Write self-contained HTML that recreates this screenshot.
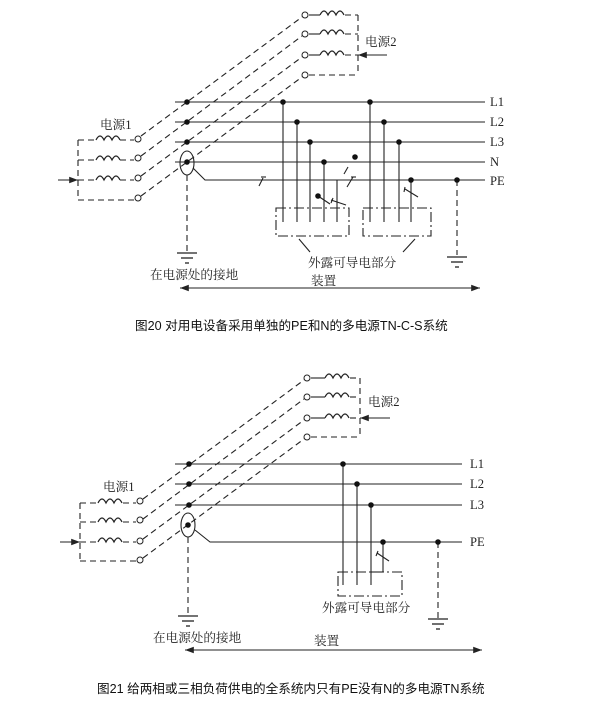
<!DOCTYPE html>
<html><head><meta charset="utf-8"><style>
html,body{margin:0;padding:0;background:#fff}
svg{display:block}
text{font-family:"Liberation Serif","Noto Serif CJK SC",serif;fill:#222}
.cap{font-family:"Liberation Sans","Noto Sans CJK SC",sans-serif;font-size:12.6px;fill:#111}
</style></head><body>
<svg width="605" height="713" viewBox="0 0 605 713" xmlns="http://www.w3.org/2000/svg">
<defs>
<path id="coil" d="M0,0 q4,-8 8,0 q4,-8 8,0 q4,-8 8,0" fill="none" stroke="#222" stroke-width="1.2"/>
<marker id="ah" markerWidth="8" markerHeight="6" refX="8" refY="3" orient="auto"><path d="M0,0 L8,3 L0,6 z" fill="#222"/></marker>
<g id="gnd" stroke="#222" stroke-width="1.3"><line x1="-10" y1="0" x2="10" y2="0"/><line x1="-6" y1="5" x2="6" y2="5"/><line x1="-2" y1="10" x2="2" y2="10"/></g>
</defs>

<!-- ============ DIAGRAM 1 ============ -->
<g stroke="#222" stroke-width="1.1" fill="none">
  <g stroke-dasharray="6,4">
    <line x1="345" y1="15" x2="358" y2="15"/><line x1="345" y1="34" x2="358" y2="34"/>
    <line x1="345" y1="55" x2="358" y2="55"/><line x1="309" y1="75" x2="358" y2="75"/>
    <line x1="358" y1="15" x2="358" y2="75"/>
  </g>
  <line x1="309" y1="15" x2="320" y2="15"/><line x1="309" y1="34" x2="320" y2="34"/><line x1="309" y1="55" x2="320" y2="55"/>
  <line x1="387" y1="55" x2="358" y2="55" marker-end="url(#ah)"/>
  <g stroke-dasharray="6,4">
    <line x1="78" y1="140" x2="95" y2="140"/><line x1="78" y1="160" x2="95" y2="160"/>
    <line x1="78" y1="180" x2="95" y2="180"/><line x1="78" y1="200" x2="134" y2="200"/>
    <line x1="78" y1="140" x2="78" y2="200"/>
    <line x1="120" y1="140" x2="134" y2="140"/><line x1="120" y1="160" x2="134" y2="160"/><line x1="120" y1="180" x2="134" y2="180"/>
  </g>
  <line x1="58" y1="180" x2="78" y2="180" marker-end="url(#ah)"/>
  <g stroke-dasharray="6,4">
    <line x1="141" y1="136" x2="302" y2="17"/>
    <line x1="141" y1="156" x2="302" y2="36"/>
    <line x1="141" y1="176" x2="302" y2="57"/>
    <line x1="141" y1="196" x2="302" y2="77"/>
  </g>
  <line x1="175" y1="102" x2="485" y2="102"/>
  <line x1="175" y1="122" x2="485" y2="122"/>
  <line x1="175" y1="142" x2="485" y2="142"/>
  <line x1="175" y1="162" x2="485" y2="162"/>
  <path d="M193,168 L205,180 L485,180"/>
  <ellipse cx="187" cy="163" rx="7" ry="12"/>
  <line x1="187" y1="175" x2="187" y2="252" stroke-dasharray="6,4"/>
  <line x1="283" y1="102" x2="283" y2="222"/>
  <line x1="297" y1="122" x2="297" y2="222"/>
  <line x1="310" y1="142" x2="310" y2="222"/>
  <line x1="324" y1="162" x2="324" y2="222"/>
  <line x1="337" y1="180" x2="337" y2="222"/>
  <line x1="318" y1="196" x2="330" y2="204"/>
  <line x1="331" y1="200" x2="346" y2="205"/><line x1="333" y1="198" x2="331" y2="203"/>
  <line x1="348" y1="167" x2="344" y2="174"/>
  <line x1="353" y1="177" x2="347" y2="187"/><line x1="351" y1="177" x2="356" y2="177"/>
  <line x1="263" y1="178" x2="259" y2="186"/><line x1="261" y1="177" x2="266" y2="177"/>
  <path d="M276,208 H349 V236 H276 Z" stroke-dasharray="10,3,2,3"/>
  <line x1="370" y1="102" x2="370" y2="222"/>
  <line x1="384" y1="122" x2="384" y2="222"/>
  <line x1="399" y1="142" x2="399" y2="222"/>
  <line x1="411" y1="180" x2="411" y2="222"/>
  <line x1="405" y1="189" x2="418" y2="197"/><line x1="405" y1="187" x2="404" y2="192"/>
  <path d="M363,208 H431 V236 H363 Z" stroke-dasharray="10,3,2,3"/>
  <line x1="457" y1="180" x2="457" y2="255" stroke-dasharray="6,4"/>
  <line x1="299" y1="239" x2="310" y2="252"/>
  <line x1="415" y1="239" x2="403" y2="252"/>
  <line x1="180" y1="288" x2="480" y2="288" marker-end="url(#ah)"/>
  <line x1="480" y1="288" x2="180" y2="288" marker-end="url(#ah)"/>
</g>
<g fill="#fff" stroke="#222" stroke-width="1">
  <circle cx="305" cy="15" r="3"/><circle cx="305" cy="34" r="3"/><circle cx="305" cy="55" r="3"/><circle cx="305" cy="75" r="3"/>
  <circle cx="138" cy="139" r="3"/><circle cx="138" cy="158" r="3"/><circle cx="138" cy="178" r="3"/><circle cx="138" cy="198" r="3"/>
</g>
<use href="#coil" x="320" y="15"/><use href="#coil" x="320" y="34"/><use href="#coil" x="320" y="55"/>
<use href="#coil" x="96" y="140"/><use href="#coil" x="96" y="160"/><use href="#coil" x="96" y="180"/>
<g fill="#111">
  <circle cx="187" cy="102" r="2.8"/><circle cx="187" cy="122" r="2.8"/><circle cx="187" cy="142" r="2.8"/><circle cx="187" cy="162" r="2.8"/>
  <circle cx="283" cy="102" r="2.8"/><circle cx="297" cy="122" r="2.8"/><circle cx="310" cy="142" r="2.8"/><circle cx="324" cy="162" r="2.8"/>
  <circle cx="318" cy="196" r="2.8"/><circle cx="355" cy="157" r="2.8"/>
  <circle cx="370" cy="102" r="2.8"/><circle cx="384" cy="122" r="2.8"/><circle cx="399" cy="142" r="2.8"/><circle cx="411" cy="180" r="2.8"/>
  <circle cx="457" cy="180" r="2.8"/>
</g>
<use href="#gnd" x="187" y="253"/><use href="#gnd" x="457" y="257"/>
<g font-size="12.6">
  <text x="490" y="106">L1</text><text x="490" y="126">L2</text><text x="490" y="146">L3</text><text x="490" y="166">N</text><text x="490" y="185">PE</text>
  <text x="365" y="46">电源2</text><text x="100" y="129">电源1</text>
  <text x="150" y="279">在电源处的接地</text>
  <text x="308" y="267">外露可导电部分</text>
  <text x="311" y="285">装置</text>
</g>
<text class="cap" x="135" y="330">图20 对用电设备采用单独的PE和N的多电源TN-C-S系统</text>

<!-- ============ DIAGRAM 2 ============ -->
<g stroke="#222" stroke-width="1.1" fill="none">
  <g stroke-dasharray="6,4">
    <line x1="350" y1="378" x2="360" y2="378"/><line x1="350" y1="397" x2="360" y2="397"/>
    <line x1="350" y1="418" x2="360" y2="418"/><line x1="311" y1="437" x2="360" y2="437"/>
    <line x1="360" y1="378" x2="360" y2="437"/>
  </g>
  <line x1="311" y1="378" x2="325" y2="378"/><line x1="311" y1="397" x2="325" y2="397"/><line x1="311" y1="418" x2="325" y2="418"/>
  <line x1="390" y1="418" x2="360" y2="418" marker-end="url(#ah)"/>
  <g stroke-dasharray="6,4">
    <line x1="80" y1="503" x2="97" y2="503"/><line x1="80" y1="522" x2="97" y2="522"/>
    <line x1="80" y1="542" x2="97" y2="542"/><line x1="80" y1="561" x2="136" y2="561"/>
    <line x1="80" y1="503" x2="80" y2="561"/>
    <line x1="123" y1="503" x2="136" y2="503"/><line x1="123" y1="522" x2="136" y2="522"/><line x1="123" y1="542" x2="136" y2="542"/>
  </g>
  <line x1="60" y1="542" x2="80" y2="542" marker-end="url(#ah)"/>
  <g stroke-dasharray="6,4">
    <line x1="143" y1="499" x2="304" y2="380"/>
    <line x1="143" y1="519" x2="304" y2="399"/>
    <line x1="143" y1="539" x2="304" y2="420"/>
    <line x1="143" y1="558" x2="304" y2="439"/>
  </g>
  <line x1="175" y1="464" x2="462" y2="464"/>
  <line x1="175" y1="484" x2="462" y2="484"/>
  <line x1="175" y1="505" x2="462" y2="505"/>
  <path d="M195,530 L210,542 L462,542"/>
  <ellipse cx="188" cy="525" rx="7" ry="12"/>
  <line x1="188" y1="537" x2="188" y2="615" stroke-dasharray="6,4"/>
  <line x1="343" y1="464" x2="343" y2="585"/>
  <line x1="357" y1="484" x2="357" y2="585"/>
  <line x1="371" y1="505" x2="371" y2="585"/>
  <line x1="383" y1="542" x2="383" y2="572"/>
  <line x1="371" y1="572" x2="383" y2="572"/>
  <line x1="377" y1="553" x2="389" y2="561"/><line x1="378" y1="551" x2="376" y2="556"/>
  <path d="M338,572 H402 V596 H338 Z" stroke-dasharray="10,3,2,3"/>
  <line x1="438" y1="542" x2="438" y2="618" stroke-dasharray="6,4"/>
  <line x1="185" y1="650" x2="482" y2="650" marker-end="url(#ah)"/>
  <line x1="482" y1="650" x2="185" y2="650" marker-end="url(#ah)"/>
</g>
<g fill="#fff" stroke="#222" stroke-width="1">
  <circle cx="307" cy="378" r="3"/><circle cx="307" cy="397" r="3"/><circle cx="307" cy="418" r="3"/><circle cx="307" cy="437" r="3"/>
  <circle cx="140" cy="501" r="3"/><circle cx="140" cy="520" r="3"/><circle cx="140" cy="541" r="3"/><circle cx="140" cy="560" r="3"/>
</g>
<use href="#coil" x="325" y="378"/><use href="#coil" x="325" y="397"/><use href="#coil" x="325" y="418"/>
<use href="#coil" x="98" y="503"/><use href="#coil" x="98" y="522"/><use href="#coil" x="98" y="542"/>
<g fill="#111">
  <circle cx="189" cy="464" r="2.8"/><circle cx="189" cy="484" r="2.8"/><circle cx="189" cy="505" r="2.8"/><circle cx="188" cy="525" r="2.8"/>
  <circle cx="343" cy="464" r="2.8"/><circle cx="357" cy="484" r="2.8"/><circle cx="371" cy="505" r="2.8"/>
  <circle cx="383" cy="542" r="2.8"/><circle cx="438" cy="542" r="2.8"/>
</g>
<use href="#gnd" x="188" y="616"/><use href="#gnd" x="438" y="619"/>
<g font-size="12.6">
  <text x="470" y="468">L1</text><text x="470" y="488">L2</text><text x="470" y="509">L3</text><text x="470" y="546">PE</text>
  <text x="368" y="406">电源2</text><text x="103" y="491">电源1</text>
  <text x="153" y="642">在电源处的接地</text>
  <text x="322" y="612">外露可导电部分</text>
  <text x="314" y="645">装置</text>
</g>
<text class="cap" x="97" y="693">图21 给两相或三相负荷供电的全系统内只有PE没有N的多电源TN系统</text>
</svg>
</body></html>
